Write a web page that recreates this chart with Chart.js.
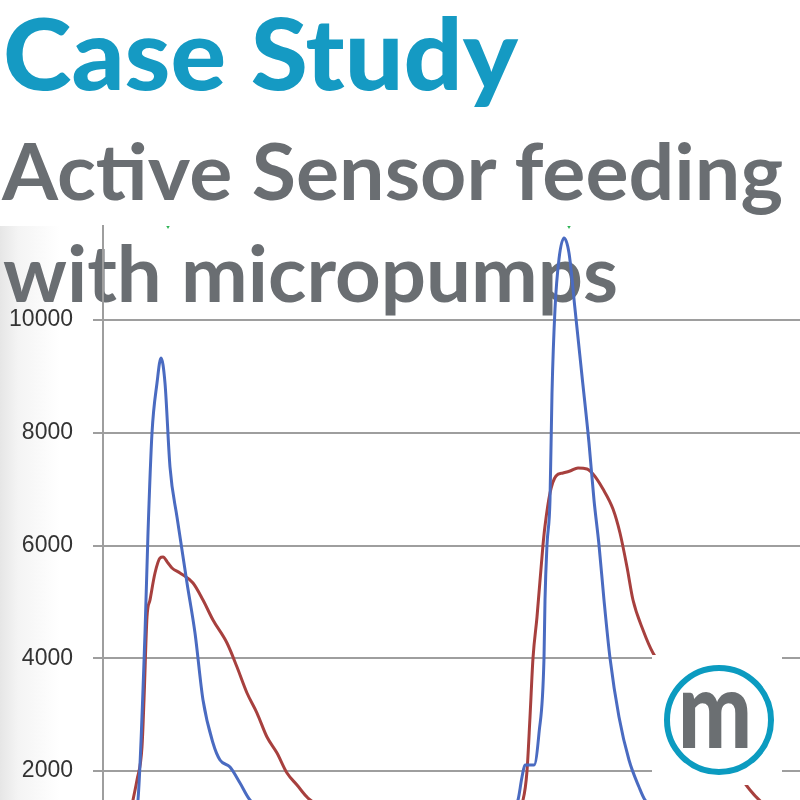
<!DOCTYPE html>
<html><head><meta charset="utf-8">
<script src="https://cdn.jsdelivr.net/npm/chart.js@4/dist/chart.umd.min.js"></script>
<style>
html,body{margin:0;padding:0;background:#fff;width:800px;height:800px;overflow:hidden}
#bg{position:absolute;left:0;top:226px;width:110px;height:574px;background:linear-gradient(to right,#e6e6e6 0px,#f4f4f4 18px,#fff 60px)}
#titles{position:absolute;left:0;top:0;z-index:1}
#wrap{position:absolute;left:0;top:0;width:800px;height:800px;z-index:2}
#logo{position:absolute;left:0;top:0;z-index:3}
</style></head><body>
<div id="bg"></div>
<svg id="titles" width="800" height="800" xmlns="http://www.w3.org/2000/svg">
  <rect x="0" y="0" width="800" height="226" fill="#ffffff"/>
  <text x="3" y="90" font-family="Lato" font-weight="900" font-size="100" fill="#159ac3" textLength="515" lengthAdjust="spacingAndGlyphs">Case Study</text>
  <text x="2" y="200" font-family="Lato" font-weight="700" font-size="79" fill="#6a6e72" textLength="781" lengthAdjust="spacingAndGlyphs">Active Sensor feeding</text>
  <text x="3" y="302" font-family="Lato" font-weight="700" font-size="79" fill="#6a6e72" textLength="615" lengthAdjust="spacingAndGlyphs">with micropumps</text>
</svg>
<div id="wrap"><canvas id="c" width="800" height="800"></canvas></div>
<svg id="logo" width="800" height="800" xmlns="http://www.w3.org/2000/svg">
  <rect x="652" y="655" width="130" height="130" fill="#ffffff"/>
  <circle cx="719" cy="720" r="52" fill="none" stroke="#0b9bc0" stroke-width="6"/>
  <text x="678" y="748" font-family="Lato" font-weight="900" font-size="106" fill="#6b6f72" textLength="74" lengthAdjust="spacingAndGlyphs">m</text>
</svg>
<script>
// time (arbitrary units) and sensor signal values
const blueT = [0, 2.7, 3.5, 4.2, 4.5, 4.9, 5.4, 5.8, 6.2, 6.7, 7.4, 8.4, 9.2, 10.0, 11.0, 11.7, 12.7, 13.7, 14.7, 20, 30, 40, 41.5, 41.9, 42.2, 43.1, 43.6, 44.1, 44.2, 44.4, 44.7, 44.9, 45.2, 45.6, 46.1, 46.6, 47.2, 47.9, 48.6, 49.1, 49.6, 50.1, 50.7, 51.6, 52.6, 53.6, 54.2, 58, 69.7];
const blueV = [600, 900, 1486, 4448, 6222, 7995, 8882, 9326, 8882, 7392, 6505, 5335, 4448, 3259, 2497, 2195, 2071, 1787, 1486, 1000, 900, 1000, 1486, 1894, 2106, 2106, 2674, 4004, 5033, 6009, 6807, 8705, 10195, 11082, 11454, 11188, 10195, 9007, 7818, 6807, 6009, 5033, 4004, 2958, 2195, 1716, 1486, 1100, 900];
const redT = [0, 2.5, 3.0, 3.4, 3.9, 4.1, 4.4, 4.7, 5.2, 5.7, 6.0, 6.5, 6.9, 7.7, 9.0, 10.0, 11.0, 12.4, 13.4, 14.4, 15.4, 16.4, 17.4, 18.4, 19.4, 20.5, 25, 35, 40, 42.0, 42.4, 42.7, 43.0, 43.4, 44.0, 44.2, 44.7, 45.3, 46.0, 46.7, 47.5, 48.4, 49.0, 50.0, 51.0, 51.7, 52.4, 53.0, 54.0, 55.0, 60.0, 64.7, 66.2, 69.7];
const redV = [800, 1000, 1486, 1840, 2426, 3259, 4732, 5033, 5512, 5778, 5796, 5690, 5601, 5512, 5335, 5033, 4678, 4270, 3845, 3384, 3029, 2603, 2319, 1965, 1752, 1521, 1100, 900, 1000, 1486, 2000, 2958, 4004, 4732, 6009, 6346, 6931, 7233, 7286, 7321, 7375, 7357, 7268, 7002, 6647, 6222, 5619, 5033, 4501, 4093, 2905, 1663, 1400, 1100];
const greenT = [6.5, 46.6];
const greenV = [11720, 11720];
const yTicks = [2000, 4000, 6000, 8000, 10000];

const pts = (t, v) => t.map((x, i) => ({x: x, y: v[i]}));

new Chart(document.getElementById('c'), {
  type: 'line',
  data: {
    datasets: [
      {label: 'Sensor 1', data: pts(blueT, blueV), borderColor: '#4a6bc1', borderWidth: 3, pointRadius: 0, cubicInterpolationMode: 'monotone', fill: false, clip: 0},
      {label: 'Sensor 2', data: pts(redT, redV), borderColor: '#a7403e', borderWidth: 3, pointRadius: 0, cubicInterpolationMode: 'monotone', fill: false, clip: 0},
      {label: 'Pump', data: pts(greenT, greenV), showLine: false, pointStyle: 'triangle', rotation: 180, pointRadius: 6, backgroundColor: '#2db354', borderColor: '#2db354', borderWidth: 0, clip: 0}
    ]
  },
  options: {
    responsive: false,
    animation: false,
    layout: {autoPadding: false, padding: {top: 226, left: 0, right: 0, bottom: 0}},
    plugins: {legend: {display: false}, tooltip: {enabled: false}, title: {display: false}},
    scales: {
      x: {type: 'linear', display: false, min: 0, max: 69.7, bounds: 'data'},
      y: {
        type: 'linear', position: 'left', min: 1486, max: 11667, bounds: 'data',
        afterBuildTicks: (s) => { s.ticks = yTicks.map(v => ({value: v})); },
        afterFit: (s) => { s.width = 103; s.paddingTop = 0; s.paddingBottom = 0; },
        grid: {color: '#9e9e9e', lineWidth: 2, tickLength: 10, drawTicks: true},
        border: {display: true, color: '#9e9e9e', width: 2},
        ticks: {padding: 20, color: '#333333', font: {family: 'Liberation Sans', size: 23}, callback: (v) => String(v)}
      }
    }
  }
});
</script>
</body></html>
